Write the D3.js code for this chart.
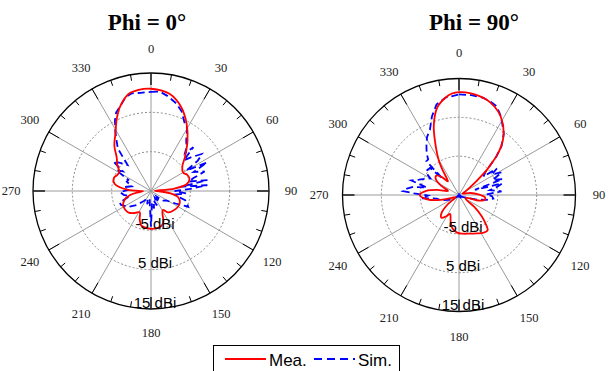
<!DOCTYPE html>
<html>
<head>
<meta charset="utf-8">
<script src="https://cdn.jsdelivr.net/npm/d3@7"></script>
<style>
  body { margin: 0; background: #fff; }
</style>
</head>
<body>
<script>
// gain in dBi (theta in degrees, clockwise from top)
const phi0MeaAngles = [0, 11, 20, 28, 36, 45, 52, 60, 66, 72, 79, 84, 88, 92, 97, 103, 112, 122, 132, 141, 148,
  153, 158, 164, 172, 181, 190, 196, 202, 208, 216, 226, 235, 244, 252, 259, 265, 269, 273, 281, 290, 295, 301,
  308, 314, 321, 328, 335, 340, 347, 353];
const phi0MeaGain = [11.0, 10.1, 7.6, 4.3, 0.8, -2.8, -4.9, -5.6, -4.9, -4.7, -5.7, -9, -14, -13, -10, -7.9, -7.1, -7.1, -7.5, -8.0, -9.3,
  -8.6, -6.6, -5.7, -5.4, -5.4, -5.6, -5.9, -7.3, -8.9, -8.1, -7.1, -6.9, -7.1, -8.0, -9.6, -12, -13, -9.2, -5.6, -5.0, -5.5, -5.6,
  -4.1, -2.9, -0.2, 2.1, 5.5, 7.9, 10.3, 10.9];

const phi0SimAngles = [0, 5, 10, 16, 21, 26, 30, 32, 35, 39, 42, 44, 47, 50, 54, 57, 60, 63, 66, 70, 73, 76, 79, 82, 84,
  87, 90, 94, 98, 102, 105, 108, 113, 117, 122, 128, 135, 142, 150, 158, 164, 170, 175, 180, 184, 190, 196, 204, 215,
  225, 235, 245, 250, 256, 262, 268, 272, 278, 284, 291, 296, 301, 305, 308, 313, 318, 322, 326, 329, 333, 336, 340,
  345, 349, 354];
const phi0SimGain = [10.2, 10.4, 9.5, 8.2, 6.7, 4.4, 3.4, 2.1, 0.6, -0.6, -2.1, 0.5, -3.6, -1.6, 1.0, -0.8, -4.6, 1.0, -3.1, -0.5, -3.7, -5.1, -0.4, -7.4, -0.6,
  -5.1, -9, -6.1, -8.6, -7.9, -6.0, -5.5, -4.7, -8, -10.5, -11, -13, -11.5, -13, -11, -12.5, -10.5, -12, -5.9, -11, -13, -11.5, -13, -12,
  -10, -8, -6.6, -6.5, -9.4, -8, -7.1, -9, -8, -10, -8.4, -8.6, -4.7, -6.3, -2.8, -4.6, -6.1, -1.3, 0.7, 2.6, 5.2, 6.8, 7.9,
  9.8, 10.3, 10.1];

const phi90MeaAngles = [0, 6, 16, 22, 28, 36, 41, 44, 46, 48, 50, 54, 60, 70, 80, 88, 95, 100, 105, 112, 120, 128, 133,
  137, 141, 148, 155, 165, 175, 183, 191, 198, 205, 211, 218, 224, 230, 238, 248, 256, 263, 270, 277, 283, 290, 297,
  303, 310, 316, 321, 324, 327, 330, 334, 340, 346, 352, 356];
const phi90MeaGain = [11.5, 11.4, 10.6, 9.5, 7.9, 4.6, 1.5, -1.1, -3.5, -5.4, -8, -11, -13, -14, -12, -10, -8.3, -8.2, -9.5, -13, -13, -10, -7,
  -5, -3.3, -3.5, -4.1, -4.7, -5.0, -5.3, -6.2, -8, -9.6, -8.6, -7.6, -8.5, -11, -14, -13, -9.5, -6.5, -4.9, -6.5, -9.2, -12, -10,
  -8, -7.3, -8.5, -10.5, -9.5, -7, -4.5, -1.5, 4, 8.2, 10.3, 11.2];

const phi90SimAngles = [0, 7, 14, 19, 23, 27, 31, 36, 41, 44, 46, 49, 53, 55, 58, 62, 66, 70, 72, 75, 78, 81, 85, 89,
  92, 96, 100, 104, 110, 120, 135, 150, 170, 190, 210, 230, 245, 255, 261, 265, 269, 272, 274, 277, 280, 283, 287,
  291, 295, 300, 304, 308, 313, 315, 316, 319, 322, 326, 331, 336, 341, 346, 352];
const phi90SimGain = [10.9, 10.9, 10.8, 10.3, 9.8, 8.3, 6.6, 4.6, 1.7, -1.1, -3.5, -6, -7.1, -3.1, -5, -2.5, -5.5, -3, -10.7, -3.5, -5, -6.9, -4, -8,
  -6.5, -6.1, -7.8, -10, -13, -14, -15, -14, -15, -14, -15, -14, -12, -10, -9.2, -5.3, -7, -3.5, -0.5, -1.5, -3, -6.5, -2.2,
  -4, -5.2, -6.5, -4.8, -4.6, -4.8, -9, -2.9, -2.9, -1.5, 0, 2, 3.4, 6.4, 9.0, 10.3];

const angleTicks = d3.range(0, 360, 30);
const ringLevels = [-5, 5];
const ringLabels = [-5, 5, 15];
const legendNames = ['Mea.', 'Sim.'];

const width = 613;
const height = 371;
const red = '#ff0000';
const blue = '#0000ff';

const panels = [
  {title: 'Phi = 0\u00b0', cx: 151, cy: 191, R: 118, titleX: 147, mea: [phi0MeaAngles, phi0MeaGain], sim: [phi0SimAngles, phi0SimGain]},
  {title: 'Phi = 90\u00b0', cx: 459, cy: 195, R: 116.5, titleX: 474, mea: [phi90MeaAngles, phi90MeaGain], sim: [phi90SimAngles, phi90SimGain]},
];

const svg = d3.select('body').append('svg')
  .attr('width', width)
  .attr('height', height);

const rad = d => d * Math.PI / 180;

for (const p of panels) {
  const r = d3.scaleLinear([-15, 15], [0, p.R]).clamp(true);
  const g = svg.append('g').attr('transform', `translate(${p.cx},${p.cy})`);

  // title
  svg.append('text')
    .attr('x', p.titleX)
    .attr('y', 30)
    .attr('text-anchor', 'middle')
    .attr('font-family', 'Liberation Serif')
    .attr('font-weight', 'bold')
    .attr('font-size', 23)
    .text(p.title);

  // spokes every 30 deg
  g.append('g')
    .selectAll('line')
    .data(angleTicks)
    .join('line')
    .attr('x1', 0).attr('y1', 0)
    .attr('x2', d => p.R * Math.sin(rad(d)))
    .attr('y2', d => -p.R * Math.cos(rad(d)))
    .attr('stroke', '#9a9a9a')
    .attr('stroke-width', 1);

  // dotted rings
  g.append('g')
    .selectAll('circle')
    .data(ringLevels)
    .join('circle')
    .attr('r', d => r(d))
    .attr('fill', 'none')
    .attr('stroke', '#8a8a8a')
    .attr('stroke-width', 1)
    .attr('stroke-dasharray', '2,2');

  // outer ring with ticks
  g.append('circle')
    .attr('r', p.R)
    .attr('fill', 'none')
    .attr('stroke', '#000')
    .attr('stroke-width', 1.3);

  g.append('g')
    .selectAll('line')
    .data(d3.range(0, 360, 10))
    .join('line')
    .attr('x1', d => (p.R - (d % 30 == 0 ? 12 : 6)) * Math.sin(rad(d)))
    .attr('y1', d => -(p.R - (d % 30 == 0 ? 12 : 6)) * Math.cos(rad(d)))
    .attr('x2', d => p.R * Math.sin(rad(d)))
    .attr('y2', d => -p.R * Math.cos(rad(d)))
    .attr('stroke', d => d % 90 == 0 ? '#222' : '#000')
    .attr('stroke-width', d => d % 90 == 0 ? 1.6 : 1);

  // angle labels
  g.append('g')
    .selectAll('text')
    .data(angleTicks)
    .join('text')
    .attr('x', d => 140 * Math.sin(rad(d)))
    .attr('y', d => -142 * Math.cos(rad(d)))
    .attr('dy', '0.35em')
    .attr('text-anchor', 'middle')
    .attr('font-family', 'Liberation Serif')
    .attr('font-size', 12.5)
    .attr('fill', '#222')
    .text(d => d);

  // curves
  const line = d3.lineRadial()
    .angle(d => rad(d[0]))
    .radius(d => r(d[1]));

  const sim = d3.zip(p.sim[0], p.sim[1]);
  const mea = d3.zip(p.mea[0], p.mea[1]);

  g.append('path')
    .attr('d', line.curve(d3.curveLinearClosed)(sim))
    .attr('fill', 'none')
    .attr('stroke', blue)
    .attr('stroke-width', 1.8)
    .attr('stroke-dasharray', '7,4');

  g.append('path')
    .attr('d', line.curve(d3.curveCatmullRomClosed)(mea))
    .attr('fill', 'none')
    .attr('stroke', red)
    .attr('stroke-width', 1.8);

  // radial labels along the 180 spoke
  g.append('g')
    .selectAll('text')
    .data(ringLabels)
    .join('text')
    .attr('x', 4)
    .attr('y', d => r(d) - 1.5)
    .attr('text-anchor', 'middle')
    .attr('font-family', 'Liberation Sans')
    .attr('font-size', 15)
    .text(d => `${d} dBi`);
}

// legend
const legend = svg.append('g');
legend.append('rect')
  .attr('x', 213.5).attr('y', 345.5)
  .attr('width', 186).attr('height', 40)
  .attr('fill', '#fff')
  .attr('stroke', '#000')
  .attr('stroke-width', 1);

const legendItems = [
  {name: legendNames[0], color: red, dash: null, x: 225},
  {name: legendNames[1], color: blue, dash: '8,5', x: 314},
];

legend.selectAll('line')
  .data(legendItems)
  .join('line')
  .attr('x1', d => d.x).attr('x2', d => d.x + 41)
  .attr('y1', 359).attr('y2', 359)
  .attr('stroke', d => d.color)
  .attr('stroke-width', 1.8)
  .attr('stroke-dasharray', d => d.dash);

legend.selectAll('text')
  .data(legendItems)
  .join('text')
  .attr('x', d => d.x + 44)
  .attr('y', 366)
  .attr('font-family', 'Liberation Sans')
  .attr('font-size', 17)
  .text(d => d.name);
</script>
</body>
</html>
